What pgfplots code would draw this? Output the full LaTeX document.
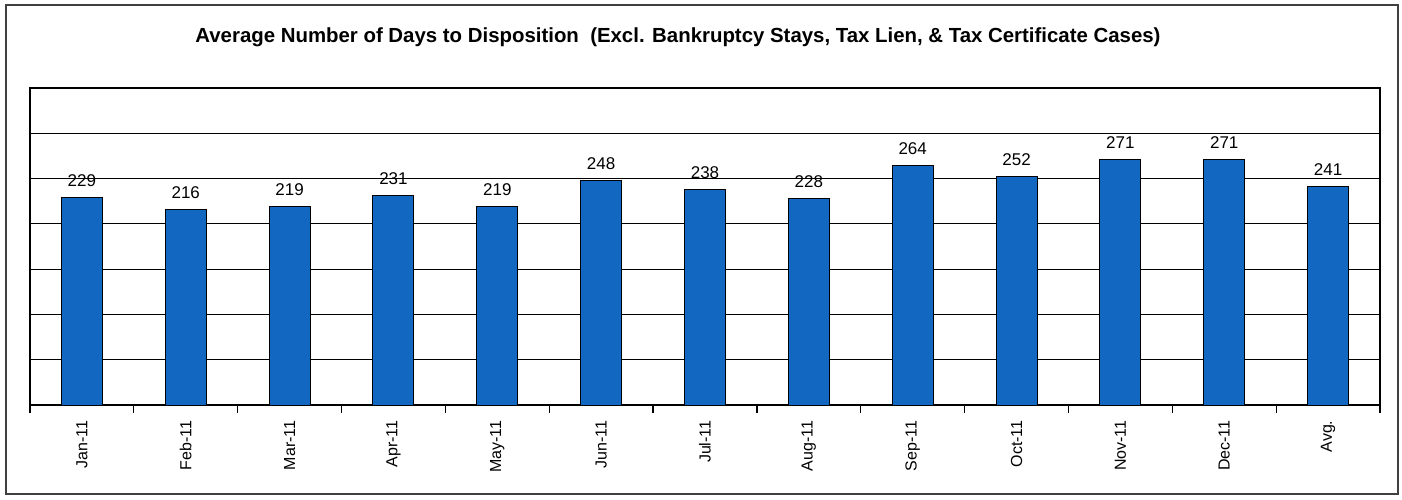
\documentclass[border=0pt]{standalone}
\usepackage{pgfplots}
\pgfplotsset{compat=1.18}
\usepackage{fontspec}
\setmainfont{Liberation Sans}
\definecolor{barblue}{RGB}{18,104,192}

\begin{document}
\begin{tikzpicture}
\begin{axis}[
  name=main,
  scale only axis,
  width=675pt, height=158.5pt,
  xmin=-0.5, xmax=12.5,
  ymin=0, ymax=350,
  /pgf/number format/assume math mode=true,
  xtick={0,...,12},
  xticklabels={Jan-11,Feb-11,Mar-11,Apr-11,May-11,Jun-11,Jul-11,Aug-11,Sep-11,Oct-11,Nov-11,Dec-11,Avg.},
  xticklabel style={rotate=90, anchor=east, font=\fontsize{8}{9}\selectfont},
  major x tick style={draw=none},
  minor xtick={-0.5,0.5,...,12.5},
  minor tick length=4pt,
  minor x tick style={black, line width=0.6pt},
  tick align=outside,
  xtick pos=bottom,
  ytick pos=left,
  ytick={0,50,...,350},
  yticklabels={},
  major y tick style={draw=none},
  ymajorgrids=true,
  grid style={black, line width=0.6pt},
  axis line style={black, line width=0.6pt},
  ybar, bar width=20.5pt,
  nodes near coords,
  nodes near coords style={font=\fontsize{8.5}{10}\selectfont, anchor=south, yshift=2pt},
  clip=false,
]
\addplot[fill=barblue, draw=black, line width=0.5pt] coordinates {
  (0,229) (1,216) (2,219) (3,231) (4,219) (5,248) (6,238)
  (7,228) (8,264) (9,252) (10,271) (11,271) (12,241)
};
\node[font=\bfseries\fontsize{10.2}{12}\selectfont, anchor=base] at ([yshift=23pt]rel axis cs:0.48,1) {Average Number of Days to Disposition\ \ (Excl. Bankruptcy Stays, Tax Lien, \& Tax Certificate Cases)};
\end{axis}
\path[use as bounding box] ([xshift=-15pt,yshift=-47pt]main.south west) rectangle ([xshift=11pt,yshift=44pt]main.north east);
\draw[black!75, line width=0.7pt] ([xshift=-12pt,yshift=-44.5pt]main.south west) rectangle ([xshift=9pt,yshift=41.5pt]main.north east);
\end{tikzpicture}
\end{document}
